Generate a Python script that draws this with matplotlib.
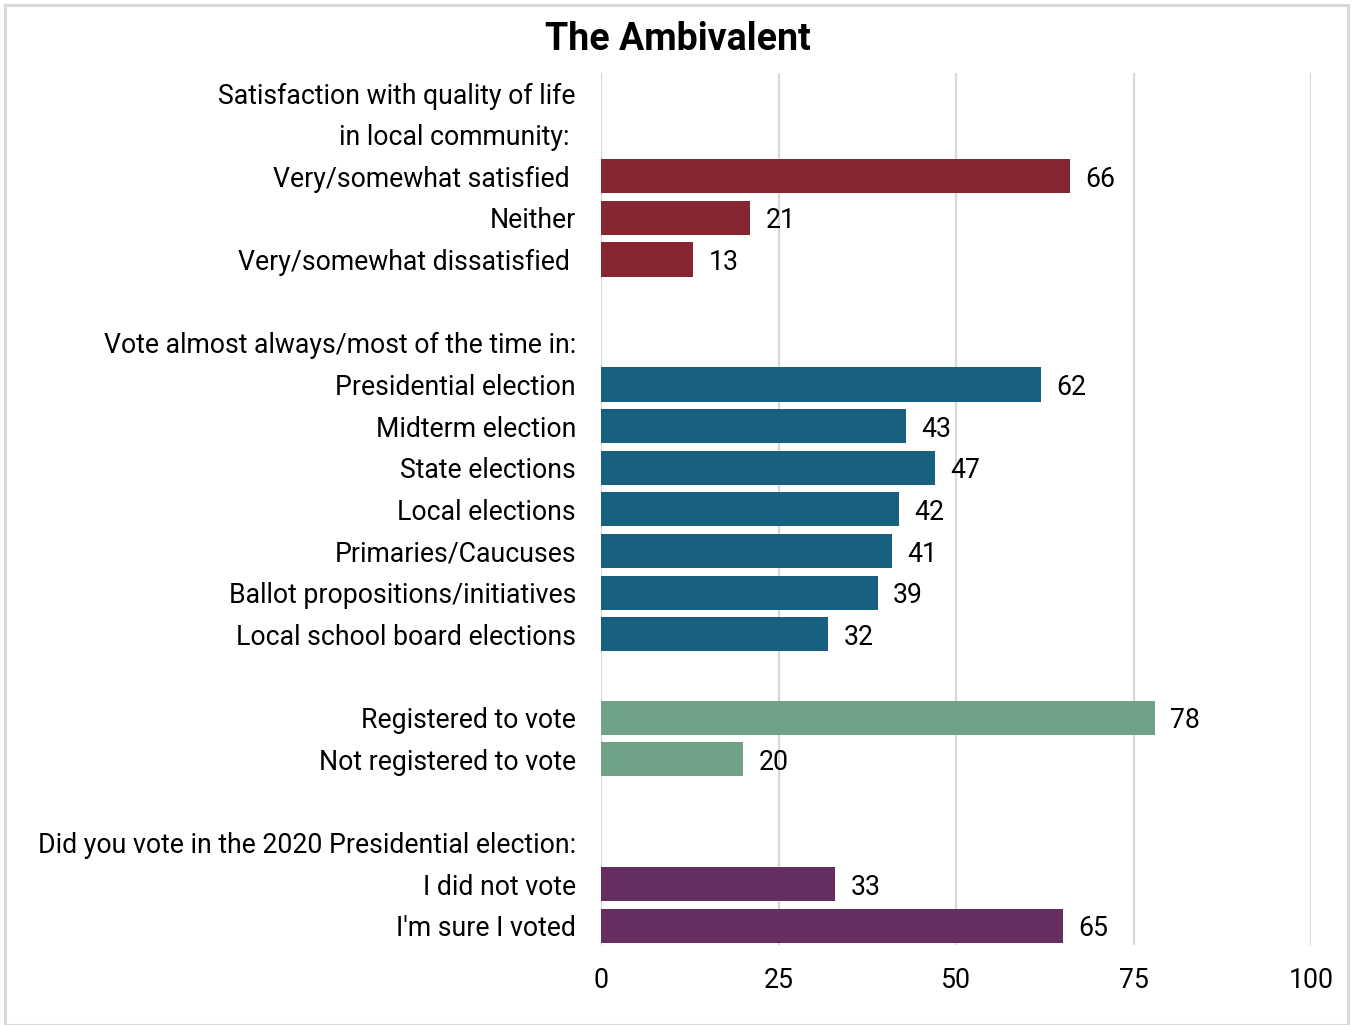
import matplotlib.pyplot as plt
from matplotlib.patches import Rectangle

plt.rcParams["font.family"] = ["Roboto", "DejaVu Sans"]

# ── Data ──────────────────────────────────────────────────────────────────────
LABELS = [
    "Satisfaction with quality of life",
    "in local community: ",
    "Very/somewhat satisfied ",
    "Neither",
    "Very/somewhat dissatisfied ",
    "",
    "Vote almost always/most of the time in:",
    "Presidential election",
    "Midterm election",
    "State elections",
    "Local elections",
    "Primaries/Caucuses",
    "Ballot propositions/initiatives",
    "Local school board elections",
    "",
    "Registered to vote",
    "Not registered to vote",
    "",
    "Did you vote in the 2020 Presidential election:",
    "I did not vote",
    "I'm sure I voted",
]
VALUES = [None, None, 66, 21, 13, None, None, 62, 43, 47, 42, 41, 39, 32,
          None, 78, 20, None, None, 33, 65]
GROUPS = [None, None, "sat", "sat", "sat", None, None, "vote", "vote", "vote",
          "vote", "vote", "vote", "vote", None, "reg", "reg", None, None,
          "v2020", "v2020"]
XTICKS = [0, 25, 50, 75, 100]

COLORS = {"sat": "#862633", "vote": "#17607F", "reg": "#70A287", "v2020": "#652D60"}
FS = 19.2

# ── Figure ────────────────────────────────────────────────────────────────────
fig = plt.figure(figsize=(13.52, 10.25), dpi=100)
fig.patches.append(Rectangle((5 / 1352, 0.0), 1343 / 1352, 1 - 5 / 1025,
                             transform=fig.transFigure, fill=False,
                             edgecolor="#d9d9d9", linewidth=2.2))

ax = fig.add_axes([601 / 1352, 1 - 945 / 1025, 710 / 1352, 872 / 1025])

for i, (v, g) in enumerate(zip(VALUES, GROUPS)):
    if v is None:
        continue
    ax.barh(i, v, height=0.82, color=COLORS[g], zorder=3)
    ax.annotate(f"{v}", (v, i), xytext=(11, 0), textcoords="offset points",
                va="center_baseline", ha="left", fontsize=FS, color="black")

ax.set_xlim(0, 100)
ax.set_ylim(20.46, -0.48)
ax.set_xticks(XTICKS)
ax.set_xticklabels([str(t) for t in XTICKS], fontsize=FS)
ax.set_yticks(range(len(LABELS)))
ax.set_yticklabels(LABELS, fontsize=FS)
ax.tick_params(axis="both", length=0)
ax.tick_params(axis="y", pad=18)
ax.tick_params(axis="x", pad=16)

ax.grid(axis="x", color="#d9d9d9", linewidth=1.6, zorder=0)
for s in ax.spines.values():
    s.set_visible(False)

fig.text(678 / 1352, 1 - 40 / 1025, "The Ambivalent", ha="center", va="center",
         fontsize=27, fontweight="bold")

fig.savefig("out.png", dpi=100)
